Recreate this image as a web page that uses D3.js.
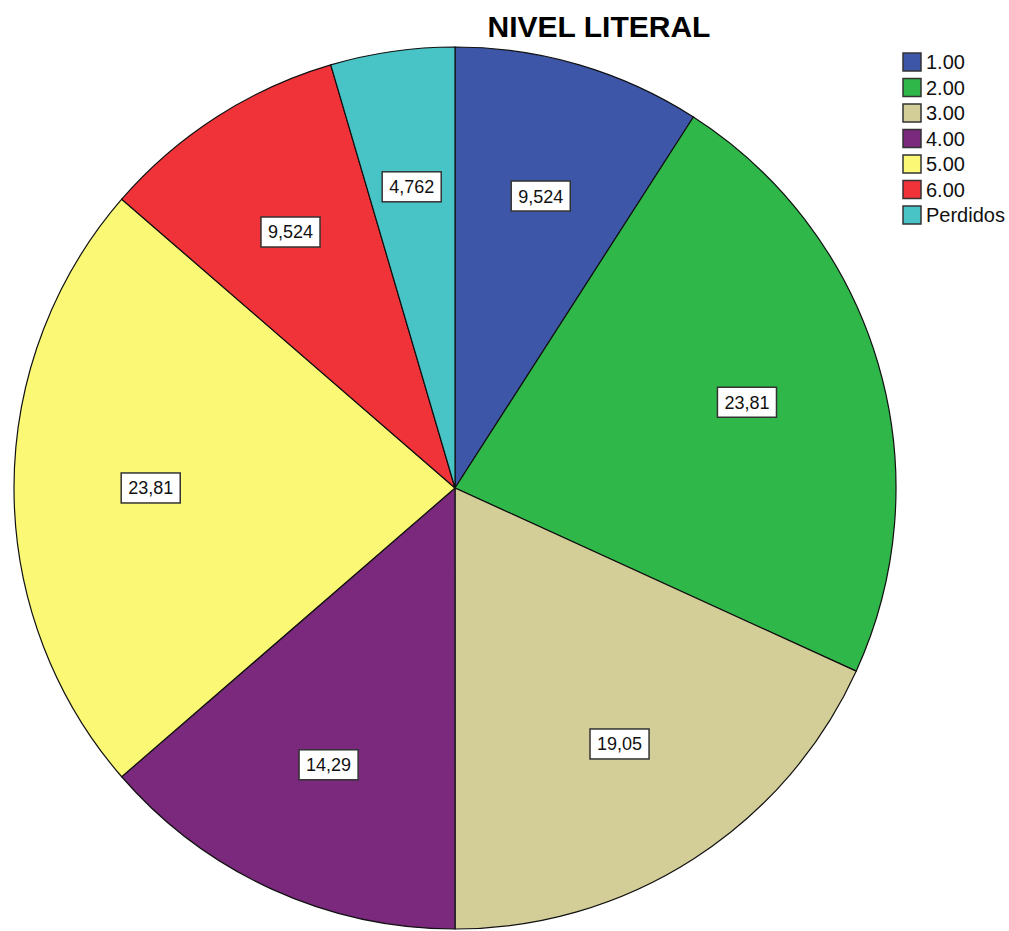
<!DOCTYPE html>
<html>
<head>
<meta charset="utf-8">
<script src="https://cdn.jsdelivr.net/npm/d3@7"></script>
<style>
  body { margin: 0; background: #fff; }
  text { font-family: "Liberation Sans", Arial, sans-serif; }
</style>
</head>
<body>
<div id="chart-area"></div>
<script>
// data (percent of cases)
let categories = ["1.00", "2.00", "3.00", "4.00", "5.00", "6.00", "Perdidos"];
let values = [9.524, 23.81, 19.05, 14.29, 23.81, 9.524, 4.762];
let valueLabels = ["9,524", "23,81", "19,05", "14,29", "23,81", "9,524", "4,762"];
let colors = ["#3D56A8", "#2FB749", "#D3CD97", "#7A297C", "#FBF875", "#EF3339", "#48C3C6"];

let width = 1009, height = 931;
let cx = 455, cy = 488, radius = 441;

let svg = d3.select("#chart-area")
  .append("svg")
    .attr("width", width)
    .attr("height", height);

// title
svg.append("text")
  .attr("x", 599)
  .attr("y", 37)
  .attr("text-anchor", "middle")
  .style("font-size", "30px")
  .style("font-weight", "bold")
  .text("NIVEL LITERAL");

let data = categories.map((c, i) => ({cat: c, value: values[i], label: valueLabels[i], color: colors[i]}));

let pie = d3.pie()
  .sort(null)
  .value(d => d.value);

let arc = d3.arc()
  .innerRadius(0)
  .outerRadius(radius);

let labelArc = d3.arc()
  .innerRadius(radius * 0.69)
  .outerRadius(radius * 0.69);

let g = svg.append("g")
  .attr("transform", "translate(" + cx + "," + cy + ")");

let arcs = pie(data);

g.selectAll("path")
  .data(arcs)
  .enter().append("path")
    .attr("d", arc)
    .attr("fill", d => d.data.color)
    .attr("stroke", "#111")
    .attr("stroke-width", 1.2);

// value labels in white boxes
let lab = g.selectAll(".lab")
  .data(arcs)
  .enter().append("g")
    .attr("class", "lab")
    .attr("transform", d => "translate(" + labelArc.centroid(d) + ")");

lab.append("text")
  .attr("text-anchor", "middle")
  .attr("dy", "0.36em")
  .style("font-size", "18px")
  .attr("fill", "#111")
  .text(d => d.data.label)
  .each(function() {
    let b = this.getBBox();
    d3.select(this.parentNode).insert("rect", "text")
      .attr("x", b.x - 7)
      .attr("y", -15)
      .attr("width", b.width + 14)
      .attr("height", 30)
      .attr("fill", "#fff")
      .attr("stroke", "#333")
      .attr("stroke-width", 1.5);
  });

// legend
let legend = svg.append("g")
  .attr("transform", "translate(903,53)");

let row = legend.selectAll(".row")
  .data(data)
  .enter().append("g")
    .attr("class", "row")
    .attr("transform", (d, i) => "translate(0," + (i * 25.5) + ")");

row.append("rect")
  .attr("width", 18)
  .attr("height", 18)
  .attr("fill", d => d.color)
  .attr("stroke", "#333")
  .attr("stroke-width", 1.5);

row.append("text")
  .attr("x", 23)
  .attr("y", 16)
  .style("font-size", "20px")
  .attr("fill", "#111")
  .text(d => d.cat);
</script>
</body>
</html>
